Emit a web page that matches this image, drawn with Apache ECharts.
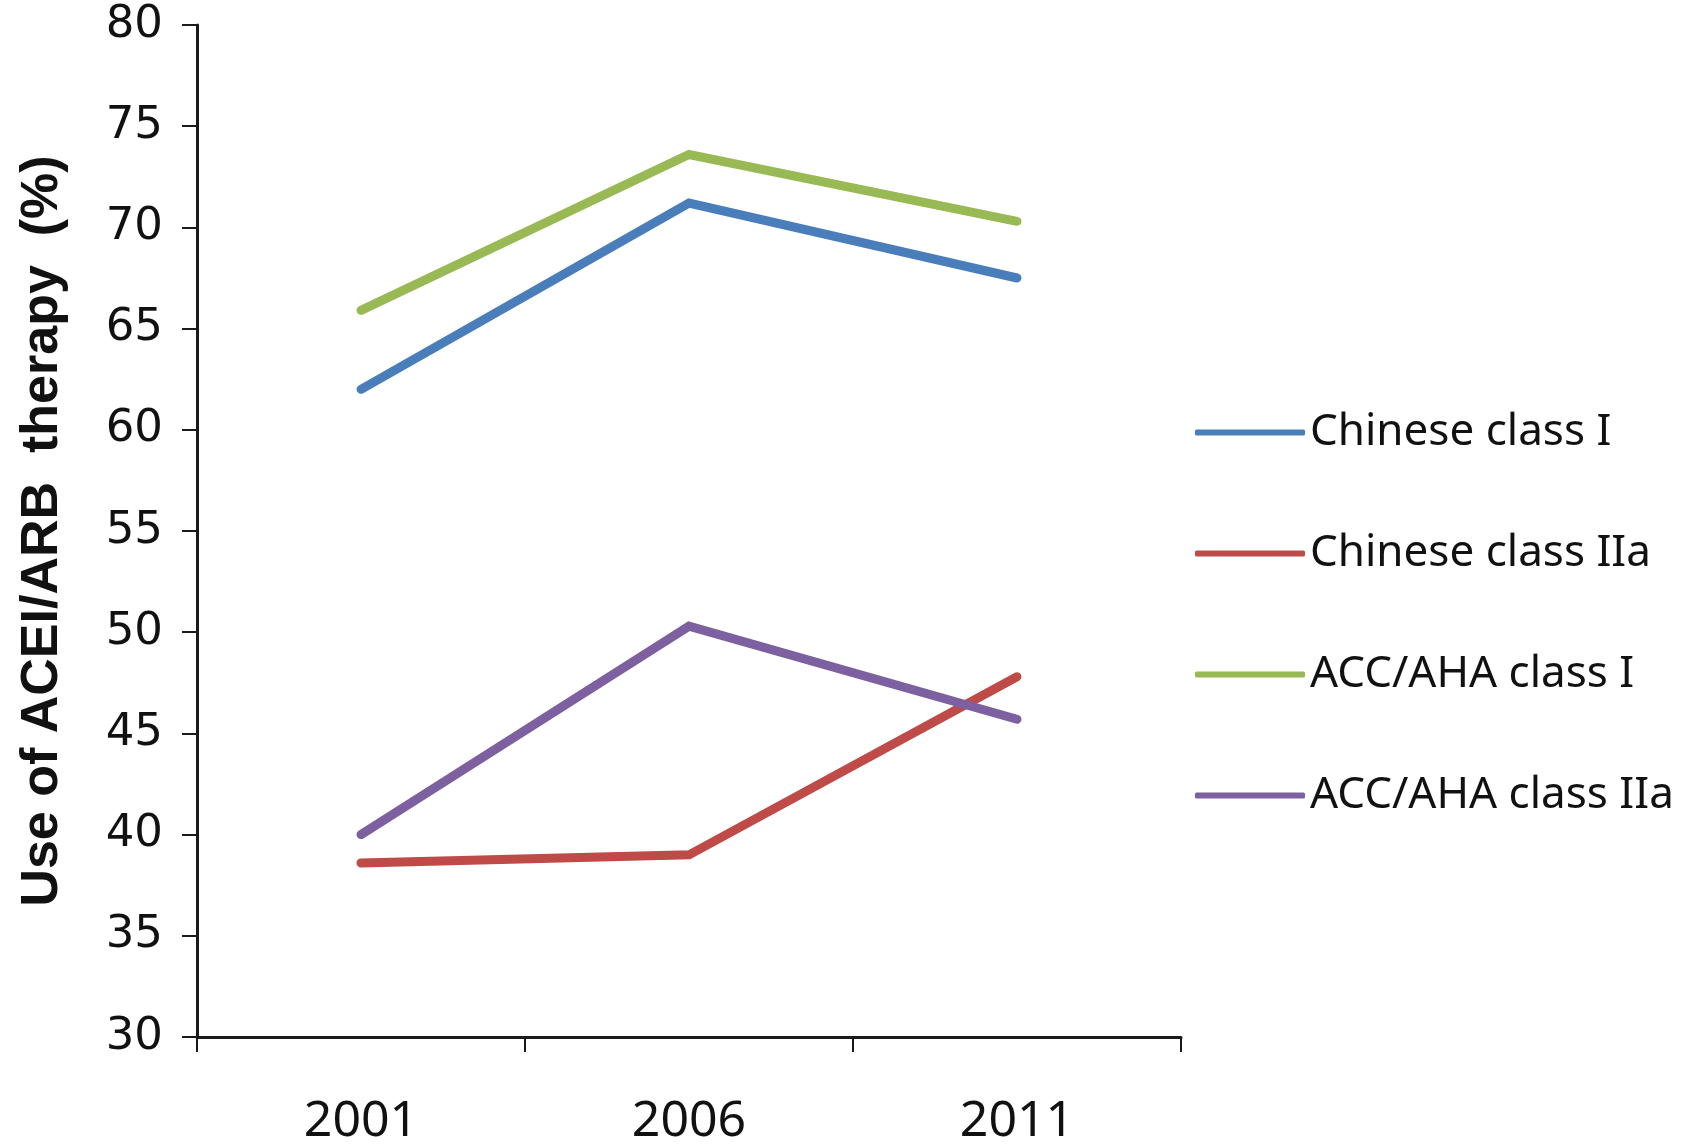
<!DOCTYPE html>
<html>
<head>
<meta charset="utf-8">
<script src="https://cdn.jsdelivr.net/npm/echarts@6/dist/echarts.min.js"></script>
<style>
  html, body { margin: 0; padding: 0; background: #fff; }
  #chart { width: 1694px; height: 1147px; }
</style>
</head>
<body>
<div id="chart"></div>
<script>
// Survey years on the category axis
const years = ['2001', '2006', '2011'];

// Share of patients on ACEI/ARB therapy (%), by guideline class
const chineseClassI = [62.0, 71.2, 67.5];
const chineseClassIIa = [38.6, 39.0, 47.8];
const accAhaClassI = [65.9, 73.6, 70.3];
const accAhaClassIIa = [40.0, 50.3, 45.7];

const seriesNames = ['Chinese class I', 'Chinese class IIa', 'ACC/AHA class I', 'ACC/AHA class IIa'];
const seriesColors = ['#4A7EBB', '#BE4B48', '#98B954', '#7D60A0'];
const seriesData = [chineseClassI, chineseClassIIa, accAhaClassI, accAhaClassIIa];

const chart = echarts.init(document.getElementById('chart'));

const axisColor = '#1a1a1a';

chart.setOption({
  animation: false,
  backgroundColor: '#ffffff',
  grid: { left: 197, right: 513, top: 25, bottom: 107, containLabel: false },
  legend: {
    orient: 'vertical',
    left: 1190,
    top: 405,
    icon: 'roundRect',
    itemWidth: 110,
    itemHeight: 6,
    itemGap: 76,
    data: seriesNames,
    textStyle: {
      fontFamily: 'Noto Sans',
      fontSize: 44,
      color: '#111',
      lineHeight: 45,
      padding: [0, 0, 0, 0]
    }
  },
  xAxis: {
    type: 'category',
    data: years,
    boundaryGap: true,
    axisLine: { show: true, lineStyle: { color: axisColor, width: 3 } },
    axisTick: { show: true, inside: false, length: 15, lineStyle: { color: axisColor, width: 2 } },
    axisLabel: { margin: 60, fontFamily: 'Noto Sans', fontSize: 50, color: '#111' },
    splitLine: { show: false }
  },
  yAxis: {
    type: 'value',
    min: 30,
    max: 80,
    interval: 5,
    name: 'Use of ACEI/ARB  therapy  (%)',
    nameLocation: 'middle',
    nameRotate: 90,
    nameGap: 128,
    nameTextStyle: {
      fontFamily: '"Liberation Sans", Arial, sans-serif',
      fontWeight: 'bold',
      fontSize: 52,
      color: '#111'
    },
    axisLine: { show: true, lineStyle: { color: axisColor, width: 3 } },
    axisTick: { show: true, inside: false, length: 15, lineStyle: { color: axisColor, width: 2 } },
    axisLabel: { margin: 34, fontFamily: 'DejaVu Sans', fontSize: 45, color: '#111' },
    splitLine: { show: false }
  },
  series: seriesNames.map((name, i) => ({
    name: name,
    type: 'line',
    data: seriesData[i],
    symbol: 'none',
    smooth: false,
    color: seriesColors[i],
    lineStyle: { color: seriesColors[i], width: 9, cap: 'round', join: 'miter' }
  }))
});
</script>
</body>
</html>
